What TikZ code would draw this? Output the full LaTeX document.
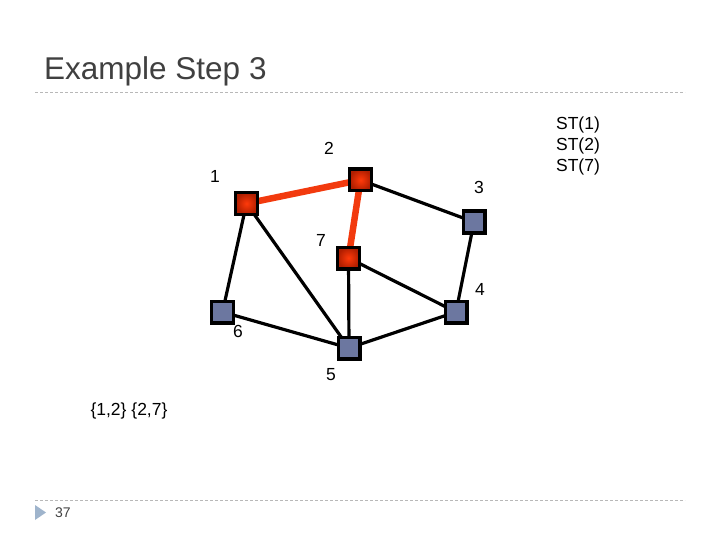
\documentclass[tikz,border=0pt]{standalone}
\usepackage{fontspec}
\setmainfont{Liberation Sans}
\definecolor{nodeblue}{HTML}{6C77A0}
\definecolor{redin}{HTML}{FF3A0A}
\definecolor{redout}{HTML}{B01E00}
\definecolor{treered}{HTML}{F23A0E}
\definecolor{titlegray}{HTML}{404040}
\definecolor{rulegray}{HTML}{B8B8B8}
\definecolor{bulletblue}{HTML}{9FB4CC}
\tikzset{
  vtx/.style={draw=black, line width=3.4pt, minimum size=21.6pt, inner sep=0pt, rectangle},
  plain/.style={vtx, fill=nodeblue},
  intree/.style={vtx, inner color=redin, outer color=redout},
  edge/.style={draw=black, line width=3.2pt},
  treeedge/.style={draw=treered, line width=6.5pt},
  lbl/.style={font=\fontsize{17.5}{20}\selectfont, inner sep=0pt},
  rulel/.style={draw=rulegray, line width=0.8pt, dash pattern=on 3pt off 2pt}
}
\begin{document}
\begin{tikzpicture}[x=1pt,y=-1pt]
\useasboundingbox (0,0) rectangle (720,540);
% title
\node[anchor=base west, inner sep=0pt, text=titlegray, font=\fontsize{31.5}{36}\selectfont] (title) at (44,80) {Example Step 3};
\coordinate (r1a) at (35,92);
\coordinate (r1b) at (685,92);
\draw[rulel] (r1a) -- (r1b);
\coordinate (r2a) at (35,500);
\coordinate (r2b) at (685,500);
\draw[rulel] (r2a) -- (r2b);
\fill[bulletblue] (35,505) -- (46,512.5) -- (35,520) -- cycle;
\node[anchor=west, inner sep=0pt, text=titlegray, font=\fontsize{14}{16}\selectfont] (pg) at (55,513) {37};

% vertex positions
\coordinate (n1) at (246.5,203.5);
\coordinate (n2) at (360.5,180);
\coordinate (n3) at (474,222);
\coordinate (n7) at (348.5,258);
\coordinate (n6) at (222.5,312);
\coordinate (n5) at (349,348);
\coordinate (n4) at (456,312);

% edges
\path[edge] (n2) -- (n3);
\path[edge] (n1) -- (n6);
\path[edge] (n1) -- (n5);
\path[edge] (n7) -- (n5);
\path[edge] (n7) -- (n4);
\path[edge] (n3) -- (n4);
\path[edge] (n6) -- (n5);
\path[edge] (n5) -- (n4);
\path[treeedge] (n1) -- (n2);
\path[treeedge] (n2) -- (n7);

% vertices on top
\node[intree] (v1) at (n1) {};
\node[intree] (v2) at (n2) {};
\node[plain]  (v3) at (n3) {};
\node[intree] (v7) at (n7) {};
\node[plain]  (v6) at (n6) {};
\node[plain]  (v5) at (n5) {};
\node[plain]  (v4) at (n4) {};

% labels
\node[lbl] (l1) at (215,176) {1};
\node[lbl] (l2) at (329,148) {2};
\node[lbl] (l3) at (479,187) {3};
\node[lbl] (l7) at (321,240) {7};
\node[lbl] (l4) at (480,289) {4};
\node[lbl] (l6) at (238,331) {6};
\node[lbl] (l5) at (331,375) {5};

\node[lbl, align=center, font=\fontsize{17.5}{21}\selectfont] (st) at (578,146) {ST(1)\\ST(2)\\ST(7)};
\node[lbl] (edges) at (129,411) {\{1,2\} \{2,7\}};
\end{tikzpicture}
\end{document}
